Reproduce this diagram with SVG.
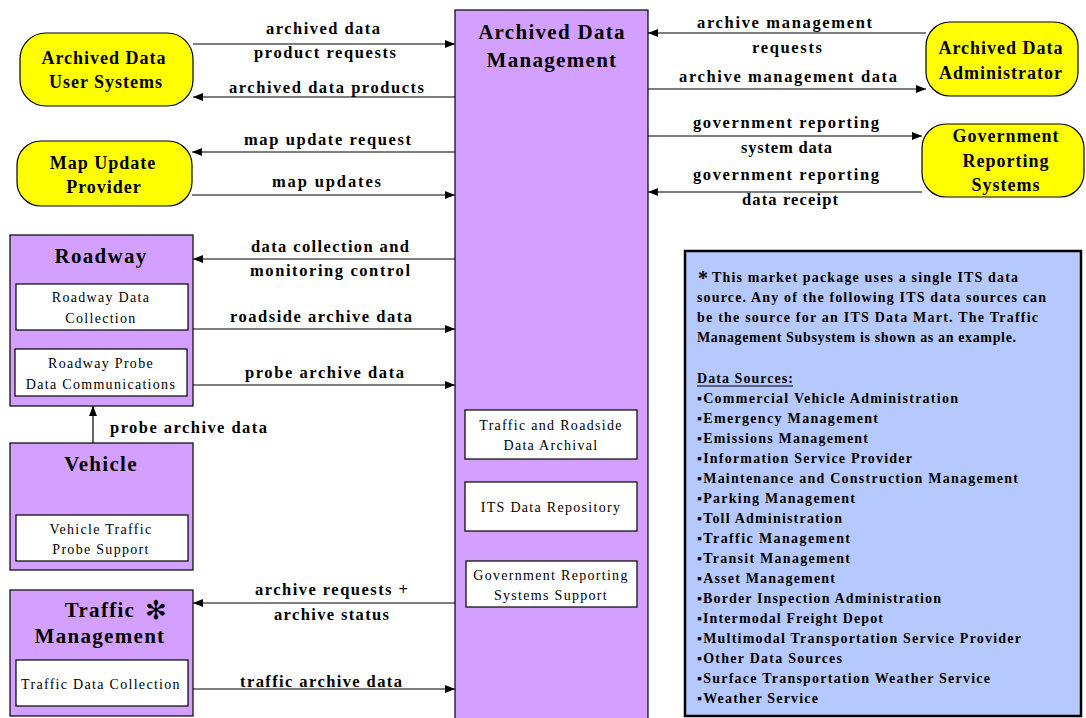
<svg xmlns="http://www.w3.org/2000/svg" width="1086" height="718" viewBox="0 0 1086 718" font-family="Liberation Serif, Times New Roman, serif">
<defs>
  <marker id="ah" viewBox="0 0 10 10" refX="10" refY="5" markerWidth="10" markerHeight="10" markerUnits="userSpaceOnUse" orient="auto">
    <path d="M0,1 L10,5 L0,9 z" fill="#000"/>
  </marker>
  <style>
    text { font-family: 'Liberation Serif', 'Times New Roman', serif; fill: #000; }
    .term { fill: #ffff00; stroke: #000; stroke-width: 1.2; }
    .sub { fill: #d4a0ff; stroke: #000; stroke-width: 1.2; }
    .inner { fill: #fff; stroke: #000; stroke-width: 1.2; }
    .note { fill: #b6c9ff; stroke: #000; stroke-width: 2.5; }
    .ttl { font-size: 18px; font-weight: bold; text-anchor: middle; letter-spacing: 1px; }
    .big { font-size: 21px; font-weight: bold; text-anchor: middle; letter-spacing: 1.3px; }
    .in { font-size: 14px; text-anchor: middle; letter-spacing: 1.3px; }
    .lbl { font-size: 16.5px; font-weight: bold; text-anchor: middle; }
    .nt { font-size: 14px; font-weight: bold; }
    .flow { stroke: #000; stroke-width: 1.2; fill: none; marker-end: url(#ah); }
  </style>
</defs>
<rect width="1086" height="718" fill="#fff"/>

<!-- central subsystem -->
<g id="archived-data-management">
  <rect class="sub" x="455" y="10" width="193" height="712"/>
  <text class="big" x="552" y="39">Archived Data</text>
  <text class="big" x="552" y="67">Management</text>
  <rect class="inner" x="465" y="410" width="172" height="49"/>
  <text class="in" x="551" y="430">Traffic and Roadside</text>
  <text class="in" x="551" y="450">Data Archival</text>
  <rect class="inner" x="465" y="482" width="172" height="49"/>
  <text class="in" x="551" y="512">ITS Data Repository</text>
  <rect class="inner" x="466" y="561" width="171" height="46"/>
  <text class="in" x="551" y="580">Government Reporting</text>
  <text class="in" x="551" y="600">Systems Support</text>
</g>

<g id="archived-data-user-systems">
  <rect class="term" x="20" y="33" width="173" height="73" rx="26"/>
  <text class="ttl" x="104" y="64">Archived Data</text>
  <text class="ttl" x="106" y="88">User Systems</text>
</g>

<g id="map-update-provider">
  <rect class="term" x="17" y="141" width="175" height="65" rx="24"/>
  <text class="ttl" x="103" y="169">Map Update</text>
  <text class="ttl" x="104" y="193">Provider</text>
</g>

<g id="archived-data-administrator">
  <rect class="term" x="926" y="22" width="152" height="74" rx="24"/>
  <text class="ttl" x="1001" y="54">Archived Data</text>
  <text class="ttl" x="1001" y="79">Administrator</text>
</g>

<g id="government-reporting-systems">
  <rect class="term" x="922" y="124" width="162" height="73" rx="24"/>
  <text class="ttl" x="1006" y="142">Government</text>
  <text class="ttl" x="1006" y="167">Reporting</text>
  <text class="ttl" x="1006" y="191">Systems</text>
</g>

<g id="roadway">
  <rect class="sub" x="10" y="235" width="183" height="171"/>
  <text class="big" x="101" y="263">Roadway</text>
  <rect class="inner" x="16" y="284" width="172" height="46"/>
  <text class="in" x="101" y="302">Roadway Data</text>
  <text class="in" x="101" y="323">Collection</text>
  <rect class="inner" x="15" y="349" width="172" height="47"/>
  <text class="in" x="101" y="368">Roadway Probe</text>
  <text class="in" x="101" y="389">Data Communications</text>
</g>

<g id="vehicle">
  <rect class="sub" x="10" y="443" width="183" height="127"/>
  <text class="big" x="101" y="471">Vehicle</text>
  <rect class="inner" x="16" y="515" width="172" height="46"/>
  <text class="in" x="101" y="534">Vehicle Traffic</text>
  <text class="in" x="101" y="554">Probe Support</text>
</g>

<g id="traffic-management">
  <rect class="sub" x="10" y="590" width="183" height="126"/>
  <text class="big" x="100" y="617">Traffic</text>
  <text x="156" y="619" style="font-size:26px;font-weight:bold;text-anchor:middle;font-family:'DejaVu Sans',sans-serif">✻</text>
  <text class="big" x="100" y="643">Management</text>
  <rect class="inner" x="16" y="660" width="172" height="46"/>
  <text class="in" x="101" y="689">Traffic Data Collection</text>
</g>

<!-- flows -->
<g id="connectors">
  <line class="flow" x1="193" y1="44" x2="455" y2="44"/>
  <line class="flow" x1="455" y1="97" x2="193" y2="97"/>
  <line class="flow" x1="455" y1="152" x2="192" y2="152"/>
  <line class="flow" x1="192" y1="195" x2="455" y2="195"/>
  <line class="flow" x1="926" y1="33" x2="648" y2="33"/>
  <line class="flow" x1="648" y1="89" x2="926" y2="89"/>
  <line class="flow" x1="648" y1="136" x2="922" y2="136"/>
  <line class="flow" x1="922" y1="192" x2="648" y2="192"/>
  <line class="flow" x1="455" y1="259" x2="193" y2="259"/>
  <line class="flow" x1="193" y1="329" x2="455" y2="329"/>
  <line class="flow" x1="193" y1="385" x2="455" y2="385"/>
  <line class="flow" x1="93" y1="443" x2="93" y2="406"/>
  <line class="flow" x1="455" y1="603" x2="193" y2="603"/>
  <line class="flow" x1="193" y1="689" x2="455" y2="689"/>

  <text class="lbl" x="323" y="34" textLength="114" lengthAdjust="spacing">archived data</text>
  <text class="lbl" x="325" y="58" textLength="142" lengthAdjust="spacing">product requests</text>
  <text class="lbl" x="326.5" y="93" textLength="195" lengthAdjust="spacing">archived data products</text>
  <text class="lbl" x="327.5" y="145" textLength="167" lengthAdjust="spacing">map update request</text>
  <text class="lbl" x="326.5" y="187" textLength="109" lengthAdjust="spacing">map updates</text>
  <text class="lbl" x="784.5" y="28" textLength="175" lengthAdjust="spacing">archive management</text>
  <text class="lbl" x="787" y="53" textLength="70" lengthAdjust="spacing">requests</text>
  <text class="lbl" x="788" y="82" textLength="218" lengthAdjust="spacing">archive management data</text>
  <text class="lbl" x="786" y="128" textLength="186" lengthAdjust="spacing">government reporting</text>
  <text class="lbl" x="786.5" y="153" textLength="91" lengthAdjust="spacing">system data</text>
  <text class="lbl" x="786" y="180" textLength="186" lengthAdjust="spacing">government reporting</text>
  <text class="lbl" x="790" y="205" textLength="96" lengthAdjust="spacing">data receipt</text>
  <text class="lbl" x="330" y="252" textLength="158" lengthAdjust="spacing">data collection  and</text>
  <text class="lbl" x="330" y="276" textLength="160" lengthAdjust="spacing">monitoring control</text>
  <text class="lbl" x="321" y="322" textLength="182" lengthAdjust="spacing">roadside archive data</text>
  <text class="lbl" x="324.5" y="378" textLength="159" lengthAdjust="spacing">probe archive data</text>
  <text class="lbl" x="110" y="433" style="text-anchor:start" textLength="157" lengthAdjust="spacing">probe archive data</text>
  <text class="lbl" x="331.5" y="595" textLength="153" lengthAdjust="spacing">archive requests +</text>
  <text class="lbl" x="331.5" y="620" textLength="115" lengthAdjust="spacing">archive status</text>
  <text class="lbl" x="321" y="687" textLength="162" lengthAdjust="spacing">traffic archive data</text>
</g>

<!-- data source note -->
<g id="data-sources-note">
  <rect class="note" x="685" y="251" width="396" height="465"/>
  <text x="698" y="285" style="font-size:20px;font-weight:bold">*</text>
  <text class="nt" x="712" y="282" textLength="306" lengthAdjust="spacing">This market package uses a single ITS data</text>
  <text class="nt" x="697" y="302" textLength="349" lengthAdjust="spacing">source. Any of the following ITS data sources can</text>
  <text class="nt" x="697" y="322" textLength="341" lengthAdjust="spacing">be the source for an ITS Data Mart. The Traffic</text>
  <text class="nt" x="697" y="342" textLength="319" lengthAdjust="spacing">Management Subsystem  is shown as an example.</text>
  <text class="nt" x="697" y="383" textLength="96" lengthAdjust="spacing">Data Sources:</text>
  <line x1="697" y1="386" x2="793" y2="386" stroke="#000" stroke-width="1"/>
  <text class="nt" x="697" y="403" textLength="261" lengthAdjust="spacing">▪Commercial Vehicle Administration</text>
  <text class="nt" x="697" y="423" textLength="181" lengthAdjust="spacing">▪Emergency Management</text>
  <text class="nt" x="697" y="443" textLength="171" lengthAdjust="spacing">▪Emissions Management</text>
  <text class="nt" x="697" y="463" textLength="215" lengthAdjust="spacing">▪Information Service Provider</text>
  <text class="nt" x="697" y="483" textLength="321" lengthAdjust="spacing">▪Maintenance and Construction Management</text>
  <text class="nt" x="697" y="503" textLength="158" lengthAdjust="spacing">▪Parking Management</text>
  <text class="nt" x="697" y="523" textLength="145" lengthAdjust="spacing">▪Toll Administration</text>
  <text class="nt" x="697" y="543" textLength="153" lengthAdjust="spacing">▪Traffic Management</text>
  <text class="nt" x="697" y="563" textLength="153" lengthAdjust="spacing">▪Transit Management</text>
  <text class="nt" x="697" y="583" textLength="138" lengthAdjust="spacing">▪Asset Management</text>
  <text class="nt" x="697" y="603" textLength="244" lengthAdjust="spacing">▪Border Inspection Administration</text>
  <text class="nt" x="697" y="623" textLength="186" lengthAdjust="spacing">▪Intermodal Freight Depot</text>
  <text class="nt" x="697" y="643" textLength="324" lengthAdjust="spacing">▪Multimodal Transportation Service Provider</text>
  <text class="nt" x="697" y="663" textLength="145" lengthAdjust="spacing">▪Other Data Sources</text>
  <text class="nt" x="697" y="683" textLength="293" lengthAdjust="spacing">▪Surface Transportation Weather Service</text>
  <text class="nt" x="697" y="703" textLength="121" lengthAdjust="spacing">▪Weather Service</text>
</g>
</svg>
